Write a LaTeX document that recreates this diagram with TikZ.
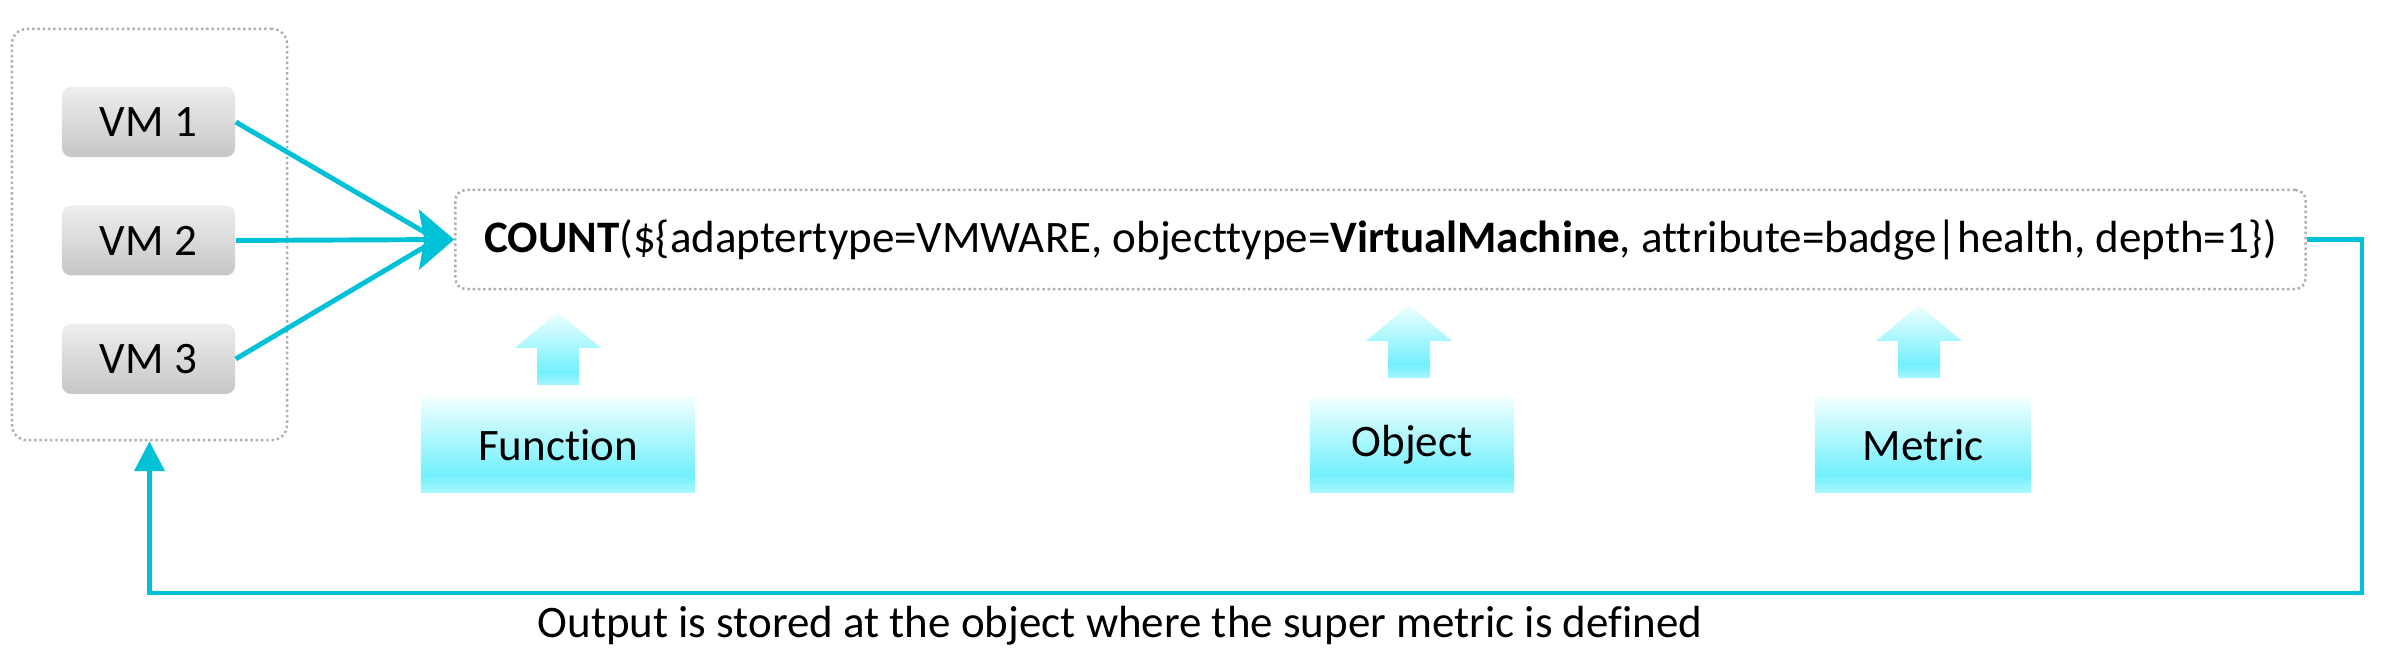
\documentclass[tikz,border=0pt]{standalone}
\usepackage{fontspec}
\setmainfont[Ligatures=NoCommon]{Carlito}
\usepackage{xcolor}
\usepackage{tikz}
\usetikzlibrary{arrows.meta, positioning}
\definecolor{LinkCyan}{RGB}{0,193,213}
\definecolor{CyanTop}{RGB}{240,255,255}
\definecolor{CyanMid}{RGB}{114,240,253}
\definecolor{CyanLow}{RGB}{168,246,254}
\definecolor{VMTop}{RGB}{238,238,239}
\definecolor{VMLow}{RGB}{198,198,200}
\definecolor{DotGray}{RGB}{175,175,175}
\pgfdeclareverticalshading{cyanfade}{100bp}{color(0bp)=(CyanLow); color(25bp)=(CyanLow); color(34bp)=(CyanMid); color(75bp)=(CyanTop); color(100bp)=(CyanTop)}

\begin{document}
\begin{tikzpicture}[x=0.01cm, y=-0.01cm,
    font=\fontsize{12.8}{15}\selectfont,
    group/.style={rectangle, rounded corners=4.3pt, draw=DotGray, line width=0.7pt, dash pattern=on 0.7pt off 0.8pt, inner sep=0pt},
    vmbox/.style={rectangle, rounded corners=2.6pt, top color=VMTop, bottom color=VMLow, minimum width=1.73cm, minimum height=0.7cm, inner sep=0pt},
    tagbox/.style={rectangle, shading=cyanfade, minimum height=0.94cm, inner sep=0pt},
    link/.style={draw=LinkCyan, line width=1.4pt},
    arrow/.style={link, -{Stealth[length=10pt, width=17pt, inset=1.5pt]}},
    backarrow/.style={link, line width=1.3pt, -{Triangle[length=8.5pt, width=8.5pt]}}
]
\useasboundingbox (0,0) rectangle (2383,655);

\node[group, minimum width=2.75cm, minimum height=4.11cm] (vmgroup) at (149.5,234.5) {};
\node[vmbox] (vm1) at (148.5,122) {VM 1};
\node[vmbox, below=0.47cm of vm1] (vm2) {VM 2};
\node[vmbox, below=0.47cm of vm2] (vm3) {VM 3};

\node[group, rounded corners=3pt, minimum width=18.49cm, minimum height=0.99cm] (formula) at (1380.5,239.5)
  {\textbf{COUNT}(\$\{adaptertype=VMWARE, objecttype=\textbf{VirtualMachine}, attribute=badge|health, depth=1\})};

\node[tagbox, minimum width=2.74cm] (function) at (558,445) {Function};
\node[tagbox, minimum width=2.04cm] (object) at (1412,445) {Object};
\node[tagbox, minimum width=2.16cm] (metric) at (1923,445) {Metric};

\foreach \ax/\ay in {558/312, 1409/305, 1919/305}
  \shade[shading=cyanfade] (\ax,\ay) -- (\ax+43,\ay+36) -- (\ax+21,\ay+36) -- (\ax+21,\ay+73)
    -- (\ax-21,\ay+73) -- (\ax-21,\ay+36) -- (\ax-43,\ay+36) -- cycle;

\coordinate (join) at (437,239.5);
\coordinate (turn) at (2362,593);

\draw[link] (vm1.east) -- (join);
\draw[link] (vm3.east) -- (join);
\draw[arrow] (vm2.east) -- (formula.west);
\draw[backarrow] (formula.east) -| (turn) -| (vmgroup.south);

\node[anchor=base] (note) at (1120,637) {Output is stored at the object where the super metric is defined};
\end{tikzpicture}
\end{document}
